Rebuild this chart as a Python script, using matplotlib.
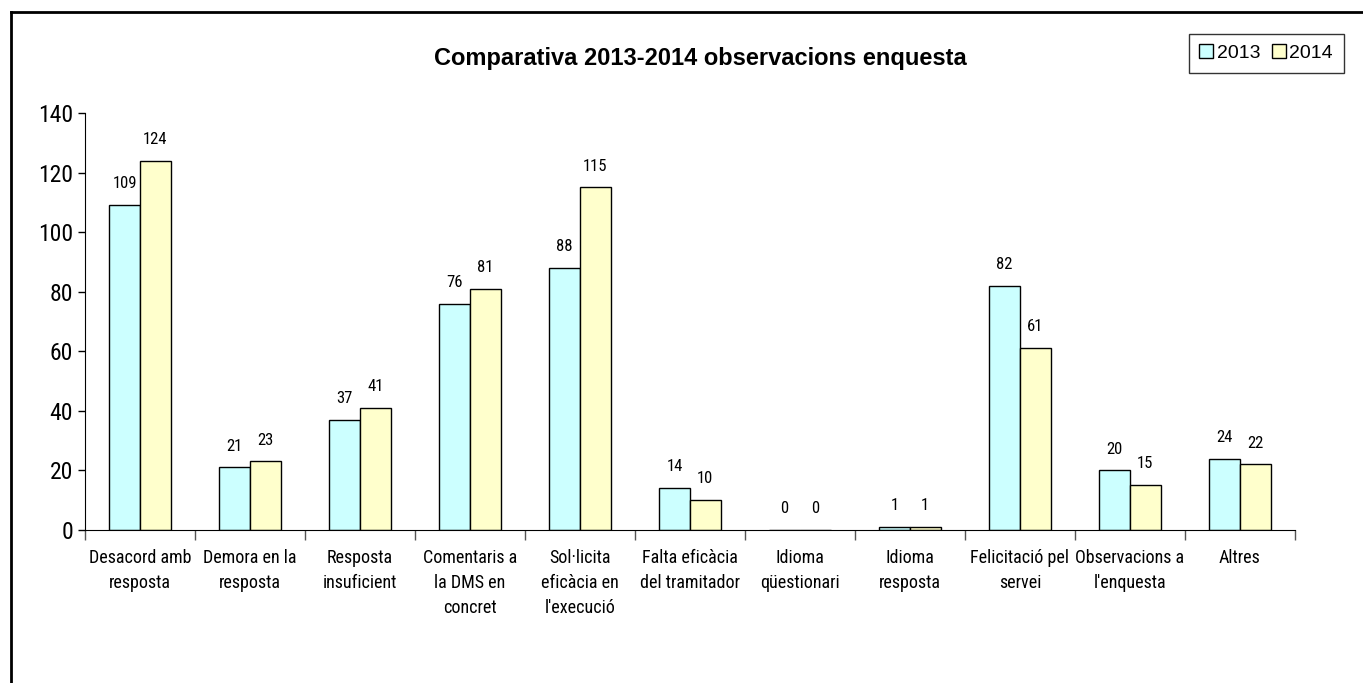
import numpy as np
import matplotlib.pyplot as plt
from matplotlib.lines import Line2D

# ----- Data -----
categories = ["Desacord amb\nresposta", "Demora en la\nresposta",
              "Resposta\ninsuficient", "Comentaris a\nla DMS en\nconcret",
              "Sol·licita\neficàcia en\nl'execució",
              "Falta eficàcia\ndel tramitador", "Idioma\nqüestionari",
              "Idioma\nresposta", "Felicitació pel\nservei",
              "Observacions a\nl'enquesta", "Altres"]
values_2013 = [109, 21, 37, 76, 88, 14, 0, 1, 82, 20, 24]
values_2014 = [124, 23, 41, 81, 115, 10, 0, 1, 61, 15, 22]
series_names = ["2013", "2014"]

narrow = ["Roboto Condensed", "Liberation Sans", "DejaVu Sans"]
wide = ["Liberation Sans", "DejaVu Sans"]
plt.rcParams['font.family'] = narrow

fig = plt.figure(figsize=(13.63, 6.83), dpi=100)
ax = fig.add_axes([0.0624, 0.224, 0.8876, 0.6106])

x = np.arange(len(categories)) + 0.5
width = 0.28
bars_a = ax.bar(x - width / 2, values_2013, width, color="#CCFFFF",
                edgecolor="black", linewidth=1.0, label=series_names[0])
bars_b = ax.bar(x + width / 2, values_2014, width, color="#FFFFCC",
                edgecolor="black", linewidth=1.0, label=series_names[1])

for bars in (bars_a, bars_b):
    for b in bars:
        ax.annotate(f"{int(b.get_height())}",
                    (b.get_x() + b.get_width() / 2, b.get_height()),
                    xytext=(0, 10), textcoords="offset points",
                    ha="center", va="bottom", fontsize=12)

ax.set_xlim(0, len(categories))
ax.set_ylim(0, 140)
ax.set_yticks(np.arange(0, 141, 20))
ax.tick_params(axis="y", labelsize=17, length=5, width=1, direction="out")
ax.set_xticks(x)
ax.set_xticklabels(categories, fontsize=13, linespacing=1.5)
ax.tick_params(axis="x", which="major", length=0, pad=14)
ax.set_xticks(np.arange(0, len(categories) + 1), minor=True)
ax.tick_params(axis="x", which="minor", length=7, width=1, color="#555555")

for side in ("top", "right"):
    ax.spines[side].set_visible(False)

fig.text(0.514, 0.915, "Comparativa 2013-2014 observacions enquesta",
         ha="center", va="center", fontsize=17, fontweight="bold",
         family=wide)

leg = fig.legend(loc="center", bbox_to_anchor=(0.929, 0.922), ncol=2,
                 frameon=True, fancybox=False,
                 handlelength=0.7, handleheight=0.7, handletextpad=0.2,
                 columnspacing=0.6, borderpad=0.55,
                 prop={"family": wide, "size": 14})
leg.get_frame().set_edgecolor("black")
leg.get_frame().set_linewidth(1.0)

# Outer chart border (top and left only visible)
fig.add_artist(Line2D([11 / 1363, 11 / 1363], [0, 1 - 12 / 683],
                      color="black", linewidth=2, transform=fig.transFigure))
fig.add_artist(Line2D([11 / 1363, 1], [1 - 12 / 683, 1 - 12 / 683],
                      color="black", linewidth=2, transform=fig.transFigure))

fig.savefig("out.png", dpi=100)
